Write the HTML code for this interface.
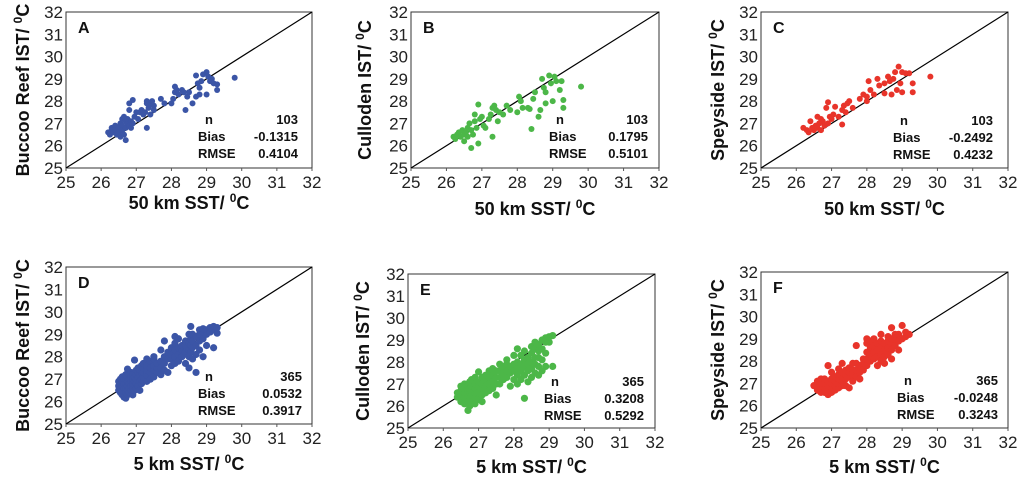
<!DOCTYPE html>
<html><head><meta charset="utf-8"><style>
html,body{margin:0;padding:0;background:#fff;}
svg{display:block;font-family:"Liberation Sans",sans-serif;}
.tk{font-size:17px;fill:#222;}
.ttl{font-size:18px;font-weight:bold;fill:#111;}
.st{font-size:13px;font-weight:bold;fill:#111;}
.lt{font-size:16px;font-weight:bold;fill:#111;}
</style></head><body>
<svg id="fig" width="1024" height="484" viewBox="0 0 1024 484"></svg>
<script>
const ticks=[25,26,27,28,29,30,31,32];
const aPts=[[26.2,26.6],[26.25,26.5],[26.3,26.7],[26.3,26.8],[26.35,26.6],[26.4,26.9],[26.4,26.7],[26.45,26.5],[26.5,26.8],[26.5,26.6],[26.55,27.0],[26.55,26.4],[26.6,27.2],[26.6,26.9],[26.6,26.7],[26.65,27.3],[26.65,26.5],[26.7,27.1],[26.7,26.8],[26.7,26.25],[26.75,27.0],[26.75,27.2],[26.8,26.9],[26.8,27.6],[26.8,27.9],[26.85,27.1],[26.85,26.8],[26.9,28.05],[26.9,27.0],[26.95,27.3],[27.0,27.5],[27.05,27.2],[27.1,27.5],[27.15,27.6],[27.2,27.4],[27.25,27.5],[27.3,26.8],[27.3,28.0],[27.3,27.9],[27.35,27.7],[27.4,27.85],[27.4,27.4],[27.45,28.0],[27.5,27.8],[27.5,27.6],[27.7,28.1],[27.8,27.9],[28.0,27.9],[28.05,28.1],[28.1,28.65],[28.1,28.4],[28.15,28.5],[28.2,28.3],[28.3,28.5],[28.35,28.4],[28.4,27.6],[28.45,28.2],[28.5,28.4],[28.6,27.9],[28.7,28.2],[28.7,29.15],[28.75,28.8],[28.8,28.6],[28.8,28.3],[28.85,28.9],[28.9,29.2],[29.0,29.3],[29.0,28.3],[29.05,29.1],[29.1,28.9],[29.15,29.0],[29.2,28.8],[29.3,28.5],[29.3,28.75],[29.8,29.05]];
const bPts=[[26.2,26.4],[26.25,26.3],[26.3,26.5],[26.35,26.6],[26.4,26.4],[26.45,26.7],[26.5,26.5],[26.5,26.2],[26.55,26.6],[26.6,26.8],[26.6,26.4],[26.65,27.0],[26.7,26.7],[26.7,25.9],[26.75,26.5],[26.8,27.1],[26.8,27.4],[26.85,26.8],[26.9,27.85],[26.9,26.1],[26.95,27.2],[27.0,27.3],[27.05,26.9],[27.1,26.8],[27.2,27.2],[27.25,27.4],[27.3,27.7],[27.3,26.4],[27.35,27.8],[27.4,27.6],[27.45,27.1],[27.5,27.5],[27.6,27.4],[27.7,27.8],[27.8,27.6],[28.0,27.5],[28.05,28.2],[28.1,28.0],[28.15,27.7],[28.3,27.7],[28.35,27.65],[28.4,26.75],[28.45,28.1],[28.5,28.4],[28.6,27.3],[28.65,27.6],[28.7,29.0],[28.75,28.6],[28.8,27.9],[28.8,28.4],[28.9,29.15],[28.95,28.8],[29.0,28.0],[29.05,29.1],[29.1,28.9],[29.2,28.5],[29.25,28.9],[29.3,27.7],[29.3,28.05],[29.8,28.65]];
const cPts=[[26.2,26.8],[26.3,26.7],[26.35,26.6],[26.4,27.1],[26.45,26.8],[26.5,26.7],[26.55,26.9],[26.6,27.3],[26.6,26.8],[26.65,27.0],[26.7,27.2],[26.7,26.7],[26.75,27.1],[26.8,26.9],[26.85,27.7],[26.9,27.95],[26.9,27.0],[26.95,27.3],[27.0,27.2],[27.05,27.4],[27.1,27.75],[27.2,27.3],[27.3,27.6],[27.3,26.95],[27.35,27.8],[27.4,27.5],[27.45,27.9],[27.5,28.0],[27.6,27.7],[27.8,28.1],[27.9,28.3],[28.0,28.2],[28.0,28.0],[28.05,28.9],[28.1,28.5],[28.2,28.3],[28.3,29.0],[28.35,28.7],[28.5,28.8],[28.5,28.35],[28.6,29.1],[28.65,28.9],[28.7,28.3],[28.75,29.0],[28.8,29.3],[28.85,28.5],[28.9,29.55],[28.95,28.8],[29.0,29.3],[29.0,28.4],[29.1,29.25],[29.2,29.25],[29.3,28.8],[29.3,28.4],[29.8,29.1]];
const dCols=[[26.5,[26.5,26.7,26.9]],[26.55,[26.4,26.6,26.8,27.0]],[26.6,[26.3,26.5,26.7,26.9,27.1]],[26.65,[26.2,26.6,26.8,27.0]],[26.7,[26.15,26.4,26.6,26.8,27.0,27.2]],[26.75,[26.3,26.5,26.7,26.9,27.45]],[26.8,[26.4,26.6,26.8,27.0,27.2]],[26.85,[26.5,26.7,26.9,27.1,27.3]],[26.9,[26.3,26.6,26.8,27.0,27.2]],[26.95,[26.5,26.9,27.1,27.85]],[27.0,[26.6,26.8,27.0,27.2,27.4]],[27.05,[26.7,27.1,27.3,27.5]],[27.1,[26.5,26.9,27.2,27.4]],[27.15,[26.8,27.0,27.3,27.6]],[27.2,[26.9,27.1,27.3,27.5,27.7]],[27.3,[26.9,27.2,27.4,27.6,27.9]],[27.4,[27.0,27.3,27.5,27.8]],[27.5,[27.1,27.4,27.6,27.9,28.0]],[27.6,[27.3,27.5,27.7]],[27.7,[27.2,27.5,27.8,28.3]],[27.8,[27.4,27.7,28.0,28.7]],[27.9,[27.3,27.9,28.2]],[28.0,[27.6,27.9,28.1,28.4]],[28.1,[27.7,28.0,28.3,28.6,28.9]],[28.2,[27.8,28.1,28.4,28.8]],[28.3,[28.0,28.3,28.5]],[28.4,[27.7,28.2,28.5,28.7]],[28.5,[27.5,28.0,28.3,28.6,29.0]],[28.55,[28.2,28.5,28.8,29.35]],[28.6,[27.9,28.4,28.7,29.0]],[28.7,[27.3,28.1,28.5,28.9]],[28.8,[28.3,28.7,29.0,29.2]],[28.9,[28.0,28.8,29.1,29.25]],[29.0,[28.5,29.0,29.2]],[29.1,[29.1,29.3]],[29.2,[28.4,29.2,29.35]],[29.3,[29.05,29.3]]];
const eCols=[[26.4,[26.4,26.6]],[26.5,[26.2,26.5,26.7,26.9]],[26.6,[26.1,26.4,26.6,26.8,27.0]],[26.7,[25.8,26.2,26.5,26.7,26.9]],[26.75,[26.0,26.4,26.6,26.8,27.1]],[26.8,[26.2,26.5,26.7,26.9,27.2]],[26.9,[26.1,26.4,26.6,26.8,27.0,27.3]],[27.0,[26.3,26.6,26.9,27.1,27.55]],[27.1,[26.2,26.5,26.8,27.0,27.3]],[27.2,[26.6,26.9,27.2,27.4]],[27.3,[26.7,27.0,27.3,27.6]],[27.4,[26.8,27.1,27.4,27.7]],[27.5,[26.5,27.0,27.3,27.6]],[27.6,[27.0,27.3,27.6,27.9]],[27.7,[27.2,27.5,27.8]],[27.8,[27.3,27.6,27.9,28.1]],[27.9,[26.9,27.5,27.8]],[28.0,[27.2,27.6,27.9,28.3]],[28.1,[27.0,27.4,27.7,28.0,28.6]],[28.2,[27.2,27.6,27.9,28.3]],[28.3,[26.35,27.4,27.8,28.1,28.5]],[28.4,[27.1,27.6,27.9,28.2]],[28.5,[27.3,27.7,28.0,28.4,28.7]],[28.6,[27.5,27.9,28.2,28.6,28.9]],[28.7,[27.4,27.8,28.2,28.5,28.8]],[28.8,[27.6,28.1,28.6,29.0]],[28.9,[27.8,28.4,28.9,29.1]],[29.0,[28.9,29.15]],[29.1,[27.8,29.2]]];
const fCols=[[26.5,[26.9]],[26.6,[26.7,26.9,27.1]],[26.7,[26.6,26.8,27.0,27.2]],[26.8,[26.6,26.8,27.0,27.2]],[26.9,[26.5,26.7,26.9,27.1,27.8]],[27.0,[26.6,26.8,27.0,27.2,27.5]],[27.1,[26.7,26.9,27.1,27.3]],[27.2,[26.8,27.0,27.2,27.4,27.65]],[27.3,[26.9,27.1,27.3,27.5,27.9]],[27.4,[26.9,27.2,27.4,27.6]],[27.5,[26.8,27.3,27.5,27.7]],[27.6,[27.1,27.4,27.6,27.9]],[27.7,[27.3,27.6,27.9,28.7]],[27.8,[27.2,27.5,27.8]],[27.9,[27.6,27.9,28.1]],[28.0,[27.8,28.1,28.4,28.8,29.0]],[28.1,[28.0,28.3,28.6,28.9]],[28.2,[28.1,28.4,28.7,29.0]],[28.3,[27.8,28.2,28.5,28.8]],[28.4,[28.0,28.3,28.6,28.9,29.2]],[28.5,[27.9,28.2,28.5,28.8]],[28.6,[28.3,28.6,28.9,29.1]],[28.7,[28.1,28.5,28.8,29.0,29.5]],[28.8,[28.7,29.0,29.2]],[28.9,[28.5,28.9,29.2]],[29.0,[29.0,29.6]],[29.1,[29.1,29.3]],[29.2,[29.2]]];
const statLabels=["n","Bias","RMSE"];
const statA=["103","-0.1315","0.4104"],statB=["103","0.1795","0.5101"],statC=["103","-0.2492","0.4232"];
const statD=["365","0.0532","0.3917"],statE=["365","0.3208","0.5292"],statF=["365","-0.0248","0.3243"];

function cols(c){const o=[];c.forEach(([x,ys])=>ys.forEach(y=>o.push([x,y])));return o;}
const NS="http://www.w3.org/2000/svg";
const svg=document.getElementById('fig');
function mk(tag,attrs,parent,text){const e=document.createElementNS(NS,tag);for(const k in attrs)e.setAttribute(k,attrs[k]);if(text!==undefined)e.textContent=text;(parent||svg).appendChild(e);return e;}

const panels=[
 {id:'a',L:'A',x0:66,x1:312,y0:12,y1:168,pts:aPts,col:'#3b55a6',yt:'Buccoo Reef IST/ ',xt:'50 km SST/ ',st:statA,sx:198,sv:298,sy:124,ytx:22,xty:209,r:3},
 {id:'b',L:'B',x0:411,x1:659,y0:12,y1:168,pts:bPts,col:'#4cb748',yt:'Culloden IST/ ',xt:'50 km SST/ ',st:statB,sx:549,sv:648,sy:124,ytx:364,xty:215,r:3},
 {id:'c',L:'C',x0:761,x1:1008,y0:12,y1:168,pts:cPts,col:'#e8342a',yt:'Speyside IST/ ',xt:'50 km SST/ ',st:statC,sx:893,sv:993,sy:125,ytx:717,xty:215,r:3},
 {id:'d',L:'D',x0:66,x1:312,y0:267,y1:424,pts:cols(dCols),col:'#3b55a6',yt:'Buccoo Reef IST/ ',xt:'5 km SST/ ',st:statD,sx:198,sv:302,sy:381,ytx:22,xty:470,r:3.6},
 {id:'e',L:'E',x0:408,x1:655,y0:274,y1:428,pts:cols(eCols),col:'#4cb748',yt:'Culloden IST/ ',xt:'5 km SST/ ',st:statE,sx:544,sv:644,sy:386,ytx:362,xty:473,r:3.6},
 {id:'f',L:'F',x0:761,x1:1008,y0:272,y1:428,pts:cols(fCols),col:'#e8342a',yt:'Speyside IST/ ',xt:'5 km SST/ ',st:statF,sx:897,sv:998,sy:385,ytx:717,xty:473,r:3.6}
];

panels.forEach(p=>{
  const g=mk('g',{});
  
  
  const sx=v=>p.x0+(v-25)/7*(p.x1-p.x0);
  const sy=v=>p.y1-(v-25)/7*(p.y1-p.y0);
  const box=mk('rect',{x:p.x0,y:p.y0,width:p.x1-p.x0,height:p.y1-p.y0,fill:'none',stroke:'#333','stroke-width':1},g);
  
  
  const ln=mk('line',{x1:sx(25),y1:sy(25),x2:sx(32),y2:sy(32),stroke:'#000','stroke-width':1.2},g);
  
  
  ticks.forEach(t=>{
    mk('line',{x1:sx(t),y1:p.y1,x2:sx(t),y2:p.y1+3,stroke:'#555'},g);
    const xl=mk('text',{x:sx(t),y:p.y1+20,'text-anchor':'middle',class:'tk'},g,String(t));
    
    
    const yl=mk('text',{x:p.x0-3,y:sy(t)+6,'text-anchor':'end',class:'tk'},g,String(t));
    
    
  });
  p.pts.forEach(([x,y])=>{
    const c=mk('circle',{cx:sx(x),cy:sy(y),r:p.r,fill:p.col},g);
    
    
  });
  const lt=mk('text',{x:p.x0+12,y:p.y0+21,class:'lt'},g,p.L);
  
  
  statLabels.forEach((s,i)=>{
    const a=mk('text',{x:p.sx+(i==0?7:0),y:p.sy+i*17,class:'st'},g,s);
    
    
    const b=mk('text',{x:p.sv,y:p.sy+i*17,class:'st','text-anchor':'end'},g,p.st[i]);
    
    
  });
  const cy=(p.y0+p.y1)/2;
  const yt=mk('text',{x:p.ytx,y:cy,class:'ttl','text-anchor':'middle',transform:`rotate(-90 ${p.ytx} ${cy})`,dy:7},g);
  
  
  mk('tspan',{},yt,p.yt);
  mk('tspan',{dy:-7,'font-size':'12px'},yt,'0');
  mk('tspan',{dy:7},yt,'C');
  const cx=(p.x0+p.x1)/2;
  const xt=mk('text',{x:cx,y:p.xty,class:'ttl','text-anchor':'middle'},g);
  
  
  mk('tspan',{},xt,p.xt);
  mk('tspan',{dy:-7,'font-size':'12px'},xt,'0');
  mk('tspan',{dy:7},xt,'C');
});
</script>
</body></html>
